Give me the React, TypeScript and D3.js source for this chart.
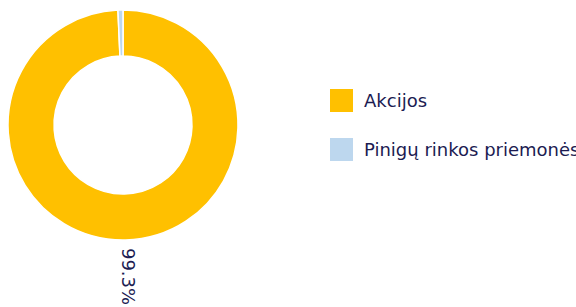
import React from "react";
import * as d3 from "d3";

const width = 576;
const height = 307;
const cx = 123;
const cy = 125;
const outerR = 115;
const innerR = 69;

// values
const categories = ["Akcijos", "Pinigų rinkos priemonės"];
const shares = [99.3, 0.7];
const colors = ["#FFC000", "#BDD7EE"];
const labelText = "99.3%";

const textColor = "#1c1c52";

function App() {
    const pieGen = d3.pie<number>().sort(null).value(d => d);
    const arcs = pieGen(shares);
    const arcGen = d3.arc<d3.PieArcDatum<number>>().innerRadius(innerR).outerRadius(outerR);

    // label sits just below the big slice, rotated 90 degrees
    const big = arcs[0];
    const mid = (big.startAngle + big.endAngle) / 2;
    const lx = cx + Math.sin(mid) * (outerR + 8) + 3;
    const ly = cy - Math.cos(mid) * (outerR + 8);

    return (
        <svg width={width} height={height}
             style={{position: "absolute", left: 0, top: 0, display: "block"}}
             fontFamily="'DejaVu Sans', Verdana, sans-serif">
            <rect width={width} height={height} fill="#fff"/>
            <g transform={`translate(${cx},${cy})`}>
                {arcs.map((d, i) => (
                    <path key={i} d={arcGen(d) || ""} fill={colors[i]} stroke="#fff" strokeWidth={1.5}/>
                ))}
            </g>
            <text x={lx} y={ly} fontSize={18} fill={textColor}
                  transform={`rotate(90, ${lx}, ${ly})`}
                  dominantBaseline="central" textAnchor="start">{labelText}</text>
            <g>
                {categories.map((c, i) => (
                    <g key={c} transform={`translate(330, ${89 + i * 49})`}>
                        <rect width={23} height={23} fill={colors[i]}/>
                        <text x={34} y={18} fontSize={18} fill={textColor}>{c}</text>
                    </g>
                ))}
            </g>
        </svg>
    );
}

export default App;
